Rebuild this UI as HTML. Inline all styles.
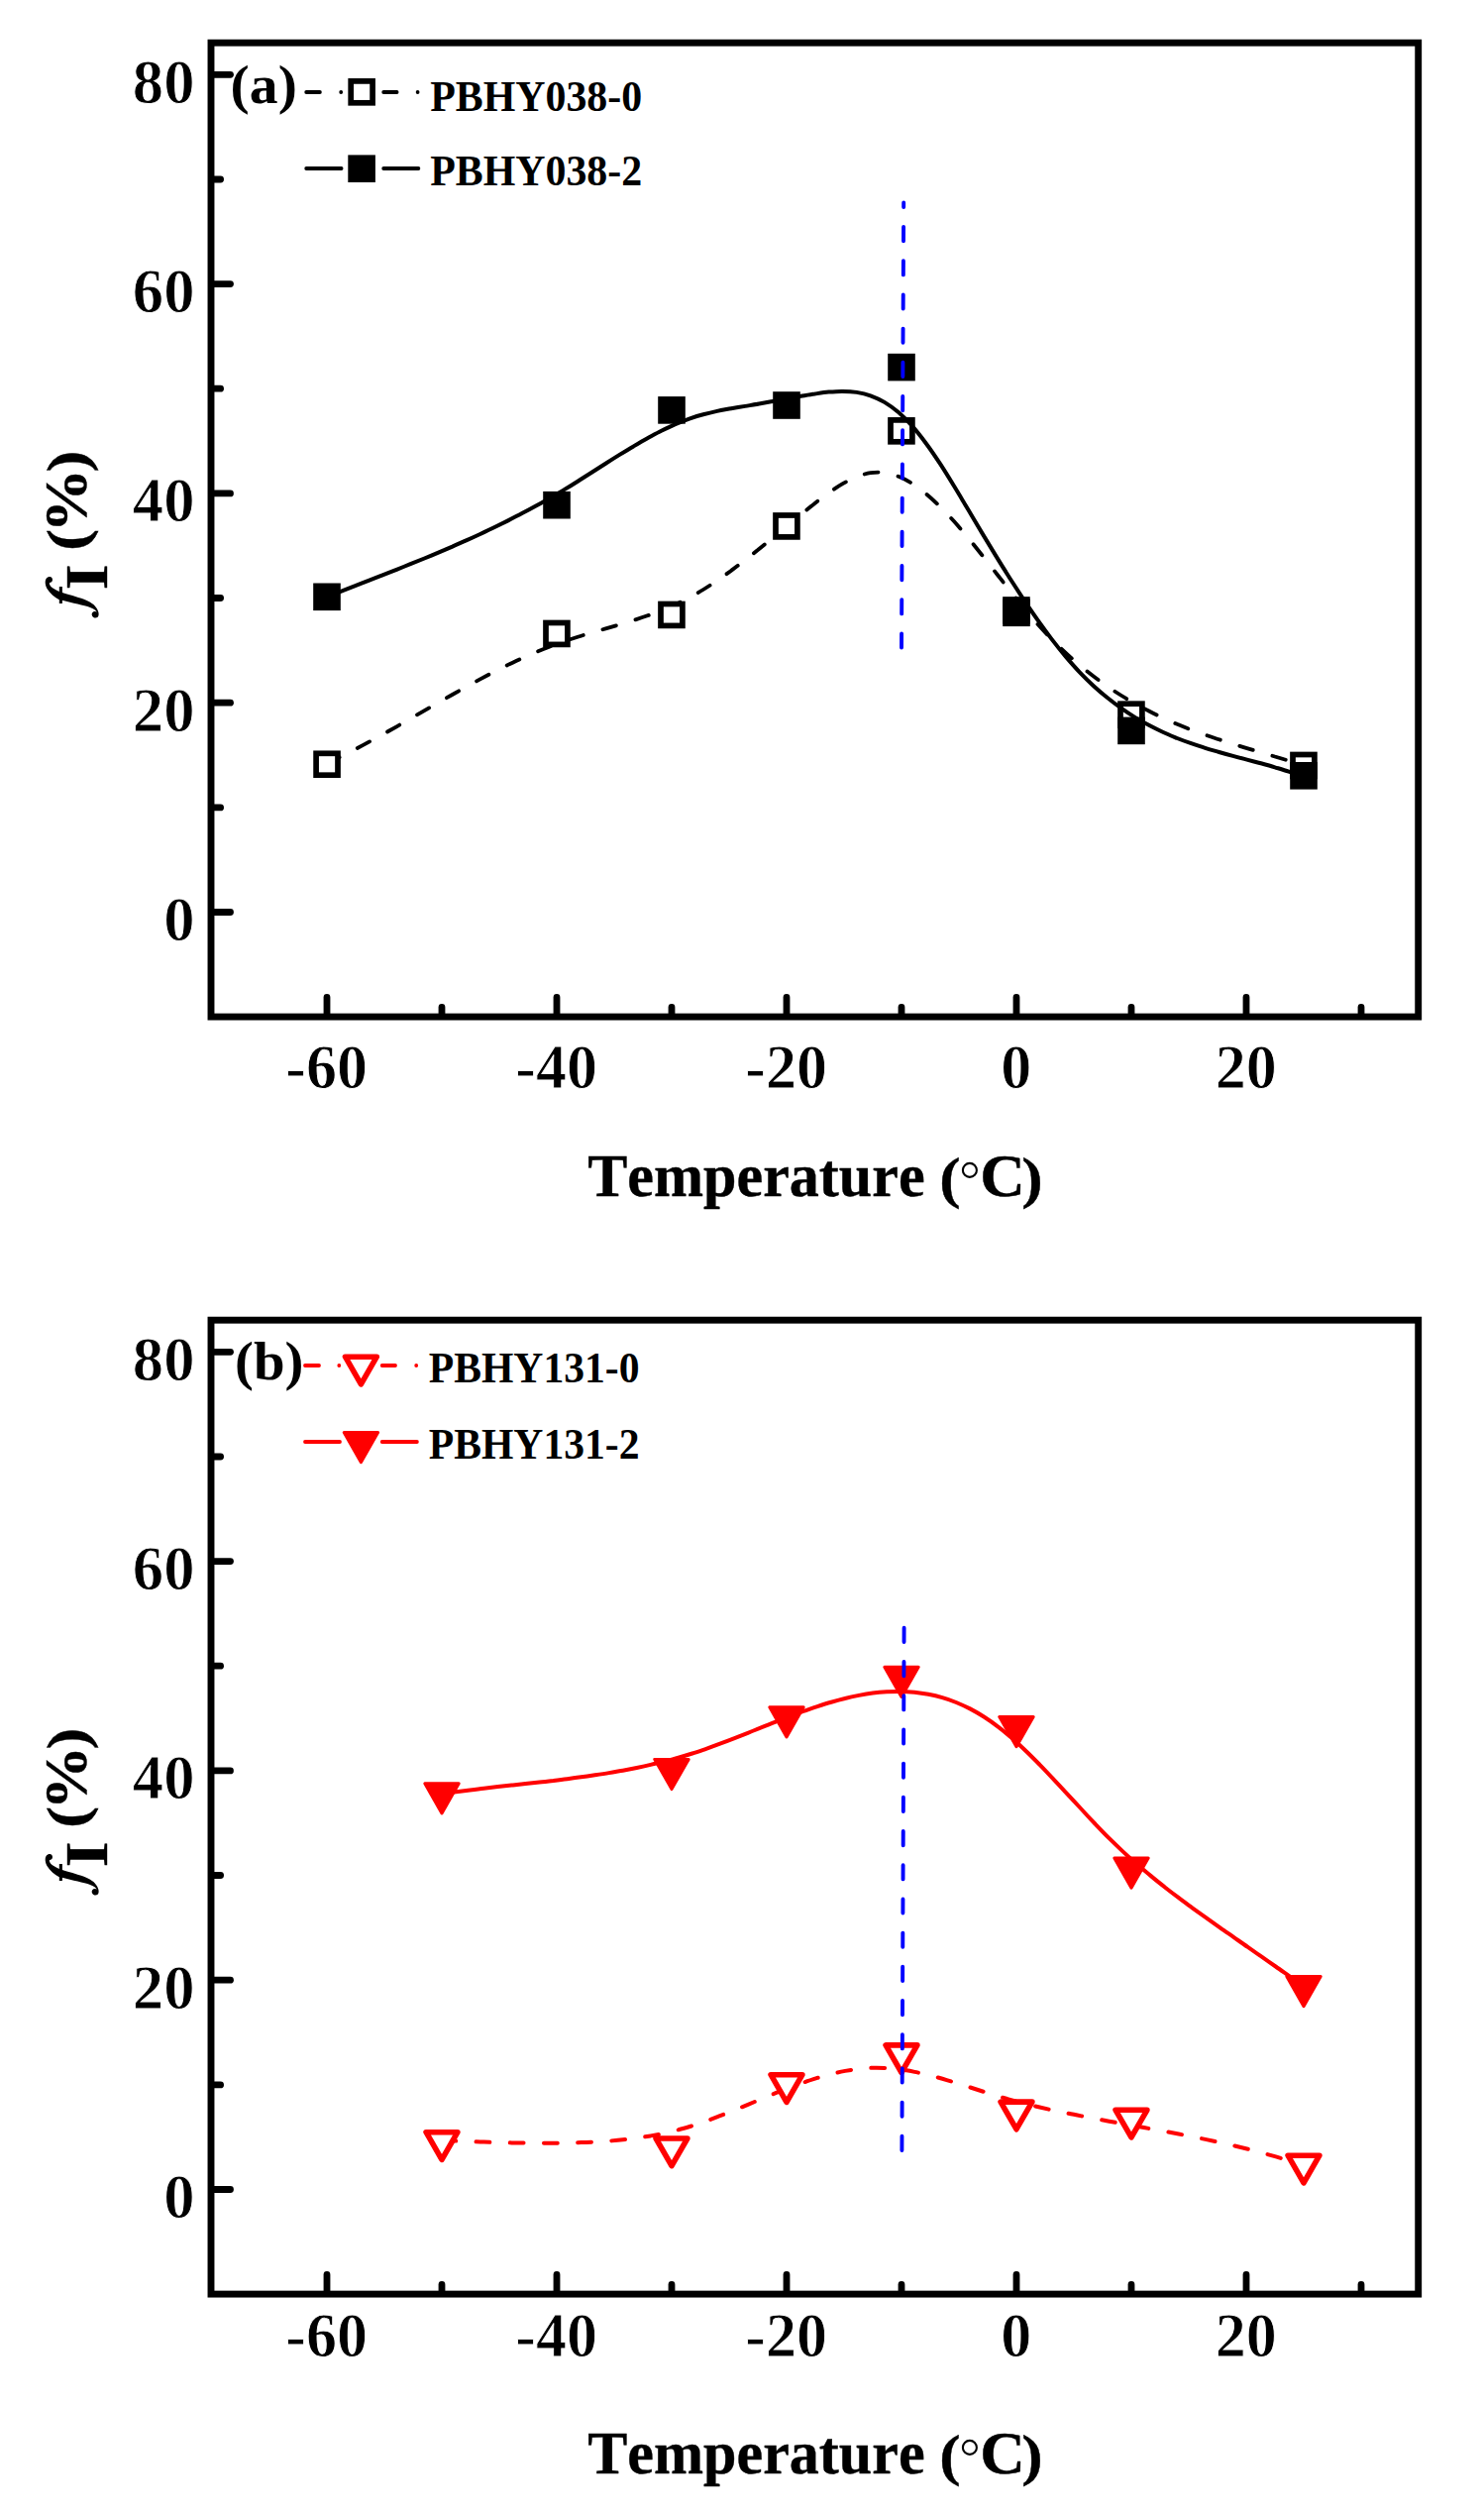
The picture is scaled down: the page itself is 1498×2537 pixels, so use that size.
<!DOCTYPE html>
<html><head><meta charset="utf-8"><title>chart</title><style>
html,body{margin:0;padding:0;background:#fff;}
body{width:1498px;height:2537px;overflow:hidden;}
svg{display:block;}
text{font-family:"Liberation Serif",serif;font-weight:bold;fill:#000;stroke:#fff;stroke-width:0.9px;font-kerning:none;}
.tk{font-size:63.6px;}
.tt{font-size:60.6px;stroke:#000;stroke-width:0.4px;}
.tag{font-size:54px;stroke:none;}
.lg{font-size:45px;stroke:none;}
</style></head><body>
<svg width="1498" height="2537" viewBox="0 0 1498 2537">
<rect width="1498" height="2537" fill="#fff"/>
<g transform="translate(0,0.0)">
<rect x="213.0" y="43.2" width="1218.7" height="982.9" fill="none" stroke="#000" stroke-width="6.9"/>
<g stroke="#000" stroke-width="6.8" stroke-linecap="round">
<line x1="216.4" y1="920.5" x2="232.5" y2="920.5"/>
<line x1="216.4" y1="814.9" x2="222.6" y2="814.9"/>
<line x1="216.4" y1="709.2" x2="232.5" y2="709.2"/>
<line x1="216.4" y1="603.5" x2="222.6" y2="603.5"/>
<line x1="216.4" y1="497.9" x2="232.5" y2="497.9"/>
<line x1="216.4" y1="392.2" x2="222.6" y2="392.2"/>
<line x1="216.4" y1="286.6" x2="232.5" y2="286.6"/>
<line x1="216.4" y1="181.0" x2="222.6" y2="181.0"/>
<line x1="216.4" y1="75.3" x2="232.5" y2="75.3"/>
<line x1="330.0" y1="1022.7" x2="330.0" y2="1006.4"/>
<line x1="446.0" y1="1022.7" x2="446.0" y2="1016.4"/>
<line x1="562.0" y1="1022.7" x2="562.0" y2="1006.4"/>
<line x1="678.0" y1="1022.7" x2="678.0" y2="1016.4"/>
<line x1="794.0" y1="1022.7" x2="794.0" y2="1006.4"/>
<line x1="910.0" y1="1022.7" x2="910.0" y2="1016.4"/>
<line x1="1026.0" y1="1022.7" x2="1026.0" y2="1006.4"/>
<line x1="1142.0" y1="1022.7" x2="1142.0" y2="1016.4"/>
<line x1="1258.0" y1="1022.7" x2="1258.0" y2="1006.4"/>
<line x1="1374.0" y1="1022.7" x2="1374.0" y2="1016.4"/>
</g>
<g class="tk" text-anchor="end">
<text class="tk" transform="translate(196.50,948.90) scale(0.9850,1.0000)" text-anchor="end">0</text>
<text class="tk" transform="translate(196.50,737.60) scale(0.9850,1.0000)" text-anchor="end">20</text>
<text class="tk" transform="translate(196.50,526.30) scale(0.9850,1.0000)" text-anchor="end">40</text>
<text class="tk" transform="translate(196.50,315.00) scale(0.9850,1.0000)" text-anchor="end">60</text>
<text class="tk" transform="translate(196.50,103.70) scale(0.9850,1.0000)" text-anchor="end">80</text>
</g>
<g class="tk" text-anchor="middle">
<text class="tk" transform="translate(329.70,1098.00) scale(0.9750,1.0000)" text-anchor="middle">-60</text>
<text class="tk" transform="translate(561.70,1098.00) scale(0.9750,1.0000)" text-anchor="middle">-40</text>
<text class="tk" transform="translate(793.70,1098.00) scale(0.9750,1.0000)" text-anchor="middle">-20</text>
<text class="tk" transform="translate(1025.70,1098.00) scale(0.9750,1.0000)" text-anchor="middle">0</text>
<text class="tk" transform="translate(1257.70,1098.00) scale(0.9750,1.0000)" text-anchor="middle">20</text>
</g>
<text class="tt" transform="translate(593.20,1206.80) scale(0.9920,1.0000)">Temperature</text>
<text class="tt" transform="translate(948.20,1207.50) scale(1.0600,0.9490)">(</text>
<circle cx="978.9" cy="1180.9" r="7.0" fill="none" stroke="#000" stroke-width="2.1"/>
<text class="tt" transform="translate(989.30,1206.80) scale(1.0400,1.0000)">C</text>
<text class="tt" transform="translate(1031.20,1207.50) scale(1.0600,0.9490)">)</text>
<g transform="translate(87.3,555.7) rotate(-90)"><text class="tt" transform="translate(-0.3,0) scale(1.1,0.95)">(</text><text class="tt" transform="translate(18.2,0) scale(1.066,1)">%</text><text class="tt" transform="translate(79.0,0) scale(1.1,0.95)">)</text><g transform="translate(-39.6,20.7) scale(1.093,1)"><text class="tt" x="0" y="0">I</text></g></g>
<path class="fg" transform="translate(40,565) scale(0.04717)" d="M215,362 C255,362 278,395 275,430 C272,470 240,492 210,488 C202,515 225,565 275,598 C325,628 370,652 420,676 L420,575 L485,575 L485,700 C600,735 800,790 950,845 C1080,895 1180,960 1230,1050 C1275,1130 1275,1200 1235,1232 C1200,1255 1140,1240 1122,1190 C1105,1140 1140,1100 1185,1100 C1200,1100 1215,1105 1225,1115 C1200,1070 1150,1040 1080,1015 C950,975 700,920 485,865 L485,935 L420,935 L420,852 C330,806 222,722 158,615 C118,540 108,450 143,400 C160,374 190,362 215,362 Z"/>
<text class="tag" transform="translate(232.60,104.30) scale(1.0680,1.0000)">(a)</text>
</g>
<g>
<path d="M329.9,770.4 C332.2,769.2 339.3,765.9 344.0,763.6 C348.7,761.3 353.4,758.9 358.0,756.4 C362.7,754.0 367.4,751.5 372.1,748.9 C376.8,746.4 381.5,743.8 386.2,741.2 C390.9,738.6 395.6,735.9 400.3,733.3 C405.0,730.6 409.6,727.9 414.3,725.2 C419.0,722.5 423.7,719.8 428.4,717.1 C433.1,714.4 437.8,711.7 442.5,709.0 C447.2,706.3 451.9,703.7 456.6,701.0 C461.2,698.4 465.9,695.7 470.6,693.1 C475.3,690.5 480.0,688.0 484.7,685.4 C489.4,682.9 494.1,680.4 498.8,678.0 C503.5,675.6 508.2,673.2 512.8,670.9 C517.5,668.7 522.2,666.4 526.9,664.3 C531.6,662.1 536.3,660.0 541.0,658.1 C545.7,656.1 550.4,654.2 555.1,652.4 C559.8,650.6 564.4,648.9 569.1,647.3 C573.8,645.7 578.5,644.2 583.2,642.7 C587.9,641.2 592.6,639.9 597.3,638.5 C602.0,637.1 606.7,635.8 611.4,634.4 C616.0,633.1 620.7,631.7 625.4,630.3 C630.1,628.9 634.8,627.5 639.5,626.0 C644.2,624.5 648.9,623.0 653.6,621.3 C658.3,619.7 663.0,618.0 667.6,616.1 C672.3,614.2 677.0,612.2 681.7,610.1 C686.4,607.9 691.1,605.6 695.8,603.1 C700.5,600.6 705.2,597.9 709.9,595.0 C714.6,592.1 719.2,589.1 723.9,585.9 C728.6,582.7 733.3,579.3 738.0,575.9 C742.7,572.4 747.4,568.9 752.1,565.2 C756.8,561.6 761.5,557.8 766.2,554.0 C770.8,550.2 775.5,546.4 780.2,542.5 C784.9,538.7 789.6,534.7 794.3,530.9 C799.0,527.0 803.7,523.1 808.4,519.3 C813.1,515.5 817.8,511.6 822.5,507.9 C827.1,504.3 831.8,500.7 836.5,497.4 C841.2,494.1 845.9,490.9 850.6,488.2 C855.3,485.6 860.0,483.1 864.7,481.2 C869.4,479.4 874.1,477.9 878.7,477.2 C883.4,476.5 888.1,476.4 892.8,477.0 C897.5,477.6 902.2,478.9 906.9,480.8 C911.6,482.6 916.3,485.2 921.0,488.1 C925.7,491.1 930.3,494.6 935.0,498.5 C939.7,502.4 944.4,506.8 949.1,511.4 C953.8,516.0 958.5,521.1 963.2,526.3 C967.9,531.6 972.6,537.1 977.3,542.8 C981.9,548.4 986.6,554.3 991.3,560.2 C996.0,566.1 1000.7,572.2 1005.4,578.2 C1010.1,584.2 1014.8,590.2 1019.5,596.1 C1024.2,602.0 1028.9,607.9 1033.5,613.6 C1038.2,619.2 1042.9,624.8 1047.6,630.0 C1052.3,635.3 1057.0,640.3 1061.7,645.1 C1066.4,649.9 1071.1,654.4 1075.8,658.8 C1080.5,663.2 1085.1,667.3 1089.8,671.3 C1094.5,675.2 1099.2,679.0 1103.9,682.5 C1108.6,686.1 1113.3,689.5 1118.0,692.8 C1122.7,696.0 1127.4,699.1 1132.1,702.0 C1136.7,704.9 1141.4,707.7 1146.1,710.3 C1150.8,712.9 1155.5,715.4 1160.2,717.8 C1164.9,720.2 1169.6,722.5 1174.3,724.6 C1179.0,726.8 1183.7,728.8 1188.3,730.8 C1193.0,732.7 1197.7,734.6 1202.4,736.4 C1207.1,738.2 1211.8,739.9 1216.5,741.5 C1221.2,743.2 1225.9,744.7 1230.6,746.3 C1235.3,747.8 1239.9,749.3 1244.6,750.8 C1249.3,752.3 1254.0,753.7 1258.7,755.1 C1263.4,756.5 1268.1,757.9 1272.8,759.3 C1277.5,760.7 1282.2,762.1 1286.9,763.5 C1291.5,764.9 1296.2,766.3 1300.9,767.7 C1305.6,769.2 1312.7,771.4 1315.0,772.2" fill="none" stroke="#000" stroke-width="3.8" stroke-dasharray="14 20.5" stroke-linecap="round"/>
<rect x="319.1" y="760.3" width="21.9" height="21.9" fill="#fff" stroke="#000" stroke-width="5.7"/>
<rect x="551.0" y="628.5" width="21.9" height="21.9" fill="#fff" stroke="#000" stroke-width="5.7"/>
<rect x="667.0" y="609.5" width="21.9" height="21.9" fill="#fff" stroke="#000" stroke-width="5.7"/>
<rect x="783.0" y="520.0" width="21.9" height="21.9" fill="#fff" stroke="#000" stroke-width="5.7"/>
<rect x="899.0" y="423.9" width="21.9" height="21.9" fill="#fff" stroke="#000" stroke-width="5.7"/>
<rect x="1015.0" y="605.0" width="21.9" height="21.9" fill="#fff" stroke="#000" stroke-width="5.7"/>
<rect x="1131.0" y="710.2" width="21.9" height="21.9" fill="#fff" stroke="#000" stroke-width="5.7"/>
<rect x="1305.0" y="761.5" width="21.9" height="21.9" fill="#fff" stroke="#000" stroke-width="5.7"/>
<path d="M329.9,602.3 C332.2,601.4 339.3,598.6 344.0,596.8 C348.7,595.0 353.4,593.1 358.0,591.3 C362.7,589.5 367.4,587.7 372.1,585.8 C376.8,584.0 381.5,582.2 386.2,580.3 C390.9,578.5 395.6,576.7 400.3,574.8 C405.0,572.9 409.6,571.1 414.3,569.2 C419.0,567.3 423.7,565.4 428.4,563.5 C433.1,561.5 437.8,559.6 442.5,557.6 C447.2,555.6 451.9,553.6 456.6,551.6 C461.2,549.5 465.9,547.5 470.6,545.4 C475.3,543.3 480.0,541.1 484.7,539.0 C489.4,536.8 494.1,534.6 498.8,532.3 C503.5,530.0 508.2,527.7 512.8,525.4 C517.5,523.0 522.2,520.6 526.9,518.1 C531.6,515.7 536.3,513.2 541.0,510.6 C545.7,508.0 550.4,505.4 555.1,502.7 C559.8,500.0 564.4,497.2 569.1,494.4 C573.8,491.6 578.5,488.7 583.2,485.7 C587.9,482.8 592.6,479.8 597.3,476.8 C602.0,473.8 606.7,470.8 611.4,467.8 C616.0,464.8 620.7,461.8 625.4,458.9 C630.1,456.0 634.8,453.1 639.5,450.4 C644.2,447.6 648.9,444.8 653.6,442.2 C658.3,439.7 663.0,437.1 667.6,434.8 C672.3,432.5 677.0,430.2 681.7,428.2 C686.4,426.2 691.1,424.3 695.8,422.6 C700.5,421.0 705.2,419.5 709.9,418.3 C714.6,417.0 719.2,415.9 723.9,414.9 C728.6,413.9 733.3,413.1 738.0,412.2 C742.7,411.4 747.4,410.7 752.1,409.9 C756.8,409.1 761.5,408.4 766.2,407.5 C770.8,406.7 775.5,405.8 780.2,405.0 C784.9,404.1 789.6,403.2 794.3,402.3 C799.0,401.5 803.7,400.6 808.4,399.8 C813.1,399.0 817.8,398.1 822.5,397.5 C827.1,396.8 831.8,396.0 836.5,395.6 C841.2,395.2 845.9,394.8 850.6,394.9 C855.3,394.9 860.0,395.1 864.7,395.9 C869.4,396.6 874.1,397.6 878.7,399.3 C883.4,401.0 888.1,403.1 892.8,405.9 C897.5,408.7 902.2,412.1 906.9,416.1 C911.6,420.2 916.3,424.9 921.0,430.1 C925.7,435.4 930.3,441.3 935.0,447.7 C939.7,454.0 944.4,461.0 949.1,468.2 C953.8,475.4 958.5,483.1 963.2,490.8 C967.9,498.4 972.6,506.5 977.3,514.3 C981.9,522.2 986.6,530.1 991.3,537.9 C996.0,545.7 1000.7,553.5 1005.4,561.1 C1010.1,568.8 1014.8,576.3 1019.5,583.7 C1024.2,591.1 1028.9,598.3 1033.5,605.4 C1038.2,612.4 1042.9,619.3 1047.6,625.9 C1052.3,632.5 1057.0,638.9 1061.7,645.1 C1066.4,651.2 1071.1,657.1 1075.8,662.6 C1080.5,668.1 1085.1,673.4 1089.8,678.3 C1094.5,683.2 1099.2,687.8 1103.9,692.2 C1108.6,696.5 1113.3,700.5 1118.0,704.3 C1122.7,708.1 1127.4,711.6 1132.1,714.9 C1136.7,718.2 1141.4,721.3 1146.1,724.1 C1150.8,727.0 1155.5,729.6 1160.2,732.1 C1164.9,734.6 1169.6,736.9 1174.3,739.0 C1179.0,741.2 1183.7,743.1 1188.3,745.0 C1193.0,746.9 1197.7,748.6 1202.4,750.2 C1207.1,751.8 1211.8,753.4 1216.5,754.8 C1221.2,756.3 1225.9,757.6 1230.6,759.0 C1235.3,760.3 1239.9,761.6 1244.6,762.9 C1249.3,764.1 1254.0,765.3 1258.7,766.6 C1263.4,767.8 1268.1,769.1 1272.8,770.3 C1277.5,771.6 1282.2,772.9 1286.9,774.3 C1291.5,775.7 1296.2,777.1 1300.9,778.6 C1305.6,780.1 1312.7,782.6 1315.0,783.3" fill="none" stroke="#000" stroke-width="4"/>
<rect x="316.2" y="588.5" width="27.6" height="27.6" fill="#000"/>
<rect x="548.2" y="495.9" width="27.6" height="27.6" fill="#000"/>
<rect x="664.2" y="400.1" width="27.6" height="27.6" fill="#000"/>
<rect x="780.2" y="395.2" width="27.6" height="27.6" fill="#000"/>
<rect x="896.2" y="356.8" width="27.6" height="27.6" fill="#000"/>
<rect x="1012.2" y="604.5" width="27.6" height="27.6" fill="#000"/>
<rect x="1128.2" y="723.6" width="27.6" height="27.6" fill="#000"/>
<rect x="1302.2" y="769.0" width="27.6" height="27.6" fill="#000"/>
<line x1="912.2" y1="204.4" x2="910.0" y2="656" stroke="#00f" stroke-width="3.9" stroke-dasharray="14.2 20" stroke-dashoffset="9.6" stroke-linecap="round"/>
<g stroke="#000" stroke-width="3.8" stroke-linecap="round">
<path d="M309.2,93H322.9 M344.2,93h0.01 M387.2,93H400.6 M421.6,93h0.01"/>
<path d="M309.2,170H344.6 M387.2,170H422.4"/>
</g>
<rect x="354.2" y="81.9" width="21.9" height="21.9" fill="#fff" stroke="#000" stroke-width="5.7"/>
<rect x="351.3" y="156.4" width="27.6" height="27.6" fill="#000"/>
<text class="lg" x="434.2" y="111.5" textLength="214.0" lengthAdjust="spacingAndGlyphs">PBHY038-0</text>
<text class="lg" x="434.2" y="186.8" textLength="214.0" lengthAdjust="spacingAndGlyphs">PBHY038-2</text>
</g>
<g transform="translate(0,1289.0)">
<rect x="213.0" y="43.2" width="1218.7" height="982.9" fill="none" stroke="#000" stroke-width="6.9"/>
<g stroke="#000" stroke-width="6.8" stroke-linecap="round">
<line x1="216.4" y1="920.5" x2="232.5" y2="920.5"/>
<line x1="216.4" y1="814.9" x2="222.6" y2="814.9"/>
<line x1="216.4" y1="709.2" x2="232.5" y2="709.2"/>
<line x1="216.4" y1="603.5" x2="222.6" y2="603.5"/>
<line x1="216.4" y1="497.9" x2="232.5" y2="497.9"/>
<line x1="216.4" y1="392.2" x2="222.6" y2="392.2"/>
<line x1="216.4" y1="286.6" x2="232.5" y2="286.6"/>
<line x1="216.4" y1="181.0" x2="222.6" y2="181.0"/>
<line x1="216.4" y1="75.3" x2="232.5" y2="75.3"/>
<line x1="330.0" y1="1022.7" x2="330.0" y2="1006.4"/>
<line x1="446.0" y1="1022.7" x2="446.0" y2="1016.4"/>
<line x1="562.0" y1="1022.7" x2="562.0" y2="1006.4"/>
<line x1="678.0" y1="1022.7" x2="678.0" y2="1016.4"/>
<line x1="794.0" y1="1022.7" x2="794.0" y2="1006.4"/>
<line x1="910.0" y1="1022.7" x2="910.0" y2="1016.4"/>
<line x1="1026.0" y1="1022.7" x2="1026.0" y2="1006.4"/>
<line x1="1142.0" y1="1022.7" x2="1142.0" y2="1016.4"/>
<line x1="1258.0" y1="1022.7" x2="1258.0" y2="1006.4"/>
<line x1="1374.0" y1="1022.7" x2="1374.0" y2="1016.4"/>
</g>
<g class="tk" text-anchor="end">
<text class="tk" transform="translate(196.50,948.90) scale(0.9850,1.0000)" text-anchor="end">0</text>
<text class="tk" transform="translate(196.50,737.60) scale(0.9850,1.0000)" text-anchor="end">20</text>
<text class="tk" transform="translate(196.50,526.30) scale(0.9850,1.0000)" text-anchor="end">40</text>
<text class="tk" transform="translate(196.50,315.00) scale(0.9850,1.0000)" text-anchor="end">60</text>
<text class="tk" transform="translate(196.50,103.70) scale(0.9850,1.0000)" text-anchor="end">80</text>
</g>
<g class="tk" text-anchor="middle">
<text class="tk" transform="translate(329.70,1089.30) scale(0.9750,1.0000)" text-anchor="middle">-60</text>
<text class="tk" transform="translate(561.70,1089.30) scale(0.9750,1.0000)" text-anchor="middle">-40</text>
<text class="tk" transform="translate(793.70,1089.30) scale(0.9750,1.0000)" text-anchor="middle">-20</text>
<text class="tk" transform="translate(1025.70,1089.30) scale(0.9750,1.0000)" text-anchor="middle">0</text>
<text class="tk" transform="translate(1257.70,1089.30) scale(0.9750,1.0000)" text-anchor="middle">20</text>
</g>
<text class="tt" transform="translate(593.20,1206.80) scale(0.9920,1.0000)">Temperature</text>
<text class="tt" transform="translate(948.20,1207.50) scale(1.0600,0.9490)">(</text>
<circle cx="978.9" cy="1180.9" r="7.0" fill="none" stroke="#000" stroke-width="2.1"/>
<text class="tt" transform="translate(989.30,1206.80) scale(1.0400,1.0000)">C</text>
<text class="tt" transform="translate(1031.20,1207.50) scale(1.0600,0.9490)">)</text>
<g transform="translate(87.3,555.7) rotate(-90)"><text class="tt" transform="translate(-0.3,0) scale(1.1,0.95)">(</text><text class="tt" transform="translate(18.2,0) scale(1.066,1)">%</text><text class="tt" transform="translate(79.0,0) scale(1.1,0.95)">)</text><g transform="translate(-39.6,20.7) scale(1.093,1)"><text class="tt" x="0" y="0">I</text></g></g>
<path class="fg" transform="translate(40,565) scale(0.04717)" d="M215,362 C255,362 278,395 275,430 C272,470 240,492 210,488 C202,515 225,565 275,598 C325,628 370,652 420,676 L420,575 L485,575 L485,700 C600,735 800,790 950,845 C1080,895 1180,960 1230,1050 C1275,1130 1275,1200 1235,1232 C1200,1255 1140,1240 1122,1190 C1105,1140 1140,1100 1185,1100 C1200,1100 1215,1105 1225,1115 C1200,1070 1150,1040 1080,1015 C950,975 700,920 485,865 L485,935 L420,935 L420,852 C330,806 222,722 158,615 C118,540 108,450 143,400 C160,374 190,362 215,362 Z"/>
<text class="tag" transform="translate(237.00,103.20) scale(1.0520,1.0000)">(b)</text>
</g>
<g>
<path d="M446.4,2160.2 C448.7,2160.2 455.8,2160.5 460.4,2160.6 C465.1,2160.8 469.8,2161.0 474.5,2161.1 C479.1,2161.3 483.8,2161.5 488.5,2161.6 C493.2,2161.8 497.8,2161.9 502.5,2162.0 C507.2,2162.2 511.9,2162.3 516.5,2162.4 C521.2,2162.5 525.9,2162.6 530.6,2162.6 C535.2,2162.7 539.9,2162.7 544.6,2162.8 C549.3,2162.8 553.9,2162.8 558.6,2162.7 C563.3,2162.7 568.0,2162.6 572.6,2162.5 C577.3,2162.4 582.0,2162.3 586.7,2162.1 C591.3,2162.0 596.0,2161.8 600.7,2161.5 C605.4,2161.2 610.0,2161.0 614.7,2160.6 C619.4,2160.2 624.1,2159.8 628.7,2159.3 C633.4,2158.8 638.1,2158.3 642.8,2157.6 C647.4,2157.0 652.1,2156.2 656.8,2155.4 C661.5,2154.6 666.1,2153.7 670.8,2152.7 C675.5,2151.6 680.2,2150.5 684.8,2149.3 C689.5,2148.0 694.2,2146.6 698.9,2145.2 C703.5,2143.7 708.2,2142.1 712.9,2140.4 C717.6,2138.8 722.2,2137.0 726.9,2135.2 C731.6,2133.4 736.3,2131.5 740.9,2129.6 C745.6,2127.7 750.3,2125.8 755.0,2123.8 C759.6,2121.9 764.3,2119.9 769.0,2118.0 C773.7,2116.0 778.3,2114.1 783.0,2112.2 C787.7,2110.3 792.4,2108.5 797.0,2106.7 C801.7,2104.9 806.4,2103.2 811.1,2101.6 C815.7,2099.9 820.4,2098.4 825.1,2096.9 C829.8,2095.5 834.4,2094.2 839.1,2093.0 C843.8,2091.8 848.5,2090.8 853.1,2089.9 C857.8,2089.1 862.5,2088.3 867.2,2087.8 C871.8,2087.3 876.5,2086.9 881.2,2086.8 C885.9,2086.7 890.6,2086.8 895.2,2087.0 C899.9,2087.3 904.6,2087.8 909.3,2088.5 C913.9,2089.1 918.6,2089.9 923.3,2090.9 C928.0,2091.8 932.6,2092.9 937.3,2094.0 C942.0,2095.2 946.7,2096.5 951.3,2097.8 C956.0,2099.2 960.7,2100.6 965.4,2102.0 C970.0,2103.5 974.7,2105.0 979.4,2106.5 C984.1,2108.0 988.7,2109.5 993.4,2111.0 C998.1,2112.5 1002.8,2113.9 1007.4,2115.3 C1012.1,2116.7 1016.8,2118.1 1021.5,2119.4 C1026.1,2120.7 1030.8,2121.9 1035.5,2123.1 C1040.2,2124.3 1044.8,2125.4 1049.5,2126.5 C1054.2,2127.6 1058.9,2128.7 1063.5,2129.7 C1068.2,2130.7 1072.9,2131.7 1077.6,2132.6 C1082.2,2133.6 1086.9,2134.5 1091.6,2135.4 C1096.3,2136.3 1100.9,2137.2 1105.6,2138.1 C1110.3,2139.0 1115.0,2139.8 1119.6,2140.7 C1124.3,2141.5 1129.0,2142.4 1133.7,2143.2 C1138.3,2144.0 1143.0,2144.9 1147.7,2145.7 C1152.4,2146.6 1157.0,2147.4 1161.7,2148.3 C1166.4,2149.1 1171.1,2150.0 1175.7,2150.9 C1180.4,2151.7 1185.1,2152.6 1189.8,2153.5 C1194.4,2154.4 1199.1,2155.3 1203.8,2156.3 C1208.5,2157.2 1213.1,2158.2 1217.8,2159.1 C1222.5,2160.1 1227.2,2161.1 1231.8,2162.2 C1236.5,2163.2 1241.2,2164.3 1245.9,2165.4 C1250.5,2166.5 1255.2,2167.7 1259.9,2168.8 C1264.6,2170.0 1269.2,2171.2 1273.9,2172.5 C1278.6,2173.8 1283.3,2175.1 1287.9,2176.4 C1292.6,2177.8 1297.3,2179.2 1302.0,2180.7 C1306.6,2182.1 1313.7,2184.5 1316.0,2185.2" fill="none" stroke="#f00" stroke-width="4" stroke-dasharray="13.8 20.4" stroke-linecap="round"/>
<polygon points="430.1,2151.7 461.9,2151.7 446.0,2179.3" fill="#fff" stroke="#f00" stroke-width="5.6" stroke-linejoin="round"/>
<polygon points="662.1,2158.0 693.9,2158.0 678.0,2185.6" fill="#fff" stroke="#f00" stroke-width="5.6" stroke-linejoin="round"/>
<polygon points="778.1,2093.7 809.9,2093.7 794.0,2121.3" fill="#fff" stroke="#f00" stroke-width="5.6" stroke-linejoin="round"/>
<polygon points="894.1,2063.9 925.9,2063.9 910.0,2091.5" fill="#fff" stroke="#f00" stroke-width="5.6" stroke-linejoin="round"/>
<polygon points="1010.1,2121.1 1041.9,2121.1 1026.0,2148.7" fill="#fff" stroke="#f00" stroke-width="5.6" stroke-linejoin="round"/>
<polygon points="1126.1,2129.3 1157.9,2129.3 1142.0,2156.9" fill="#fff" stroke="#f00" stroke-width="5.6" stroke-linejoin="round"/>
<polygon points="1300.1,2175.2 1331.9,2175.2 1316.0,2202.8" fill="#fff" stroke="#f00" stroke-width="5.6" stroke-linejoin="round"/>
<path d="M446.4,1810.3 C448.7,1810.0 455.7,1809.0 460.4,1808.3 C465.1,1807.7 469.8,1807.1 474.4,1806.5 C479.1,1805.9 483.8,1805.3 488.5,1804.8 C493.1,1804.2 497.8,1803.7 502.5,1803.1 C507.2,1802.6 511.8,1802.1 516.5,1801.6 C521.2,1801.1 525.9,1800.5 530.5,1800.0 C535.2,1799.5 539.9,1799.0 544.5,1798.5 C549.2,1797.9 553.9,1797.4 558.6,1796.9 C563.2,1796.3 567.9,1795.7 572.6,1795.2 C577.3,1794.6 581.9,1794.0 586.6,1793.3 C591.3,1792.7 596.0,1792.0 600.6,1791.3 C605.3,1790.6 610.0,1789.9 614.7,1789.1 C619.3,1788.4 624.0,1787.5 628.7,1786.7 C633.3,1785.8 638.0,1784.9 642.7,1784.0 C647.4,1783.0 652.0,1782.0 656.7,1780.9 C661.4,1779.8 666.1,1778.7 670.7,1777.5 C675.4,1776.3 680.1,1775.1 684.8,1773.7 C689.4,1772.4 694.1,1771.0 698.8,1769.5 C703.5,1768.0 708.1,1766.4 712.8,1764.8 C717.5,1763.2 722.1,1761.5 726.8,1759.7 C731.5,1758.0 736.2,1756.2 740.8,1754.4 C745.5,1752.5 750.2,1750.7 754.9,1748.8 C759.5,1746.9 764.2,1745.0 768.9,1743.2 C773.6,1741.3 778.2,1739.4 782.9,1737.6 C787.6,1735.7 792.3,1733.9 796.9,1732.1 C801.6,1730.4 806.3,1728.6 810.9,1726.9 C815.6,1725.3 820.3,1723.6 825.0,1722.1 C829.6,1720.6 834.3,1719.1 839.0,1717.8 C843.7,1716.4 848.3,1715.1 853.0,1714.0 C857.7,1712.8 862.4,1711.8 867.0,1710.9 C871.7,1710.0 876.4,1709.2 881.0,1708.6 C885.7,1708.0 890.4,1707.6 895.1,1707.3 C899.7,1707.0 904.4,1706.9 909.1,1706.9 C913.8,1707.0 918.4,1707.3 923.1,1707.7 C927.8,1708.2 932.5,1708.9 937.1,1709.8 C941.8,1710.7 946.5,1711.8 951.2,1713.2 C955.8,1714.5 960.5,1716.1 965.2,1718.0 C969.8,1719.9 974.5,1722.0 979.2,1724.4 C983.9,1726.9 988.5,1729.5 993.2,1732.5 C997.9,1735.5 1002.6,1738.8 1007.2,1742.4 C1011.9,1745.9 1016.6,1749.8 1021.3,1753.8 C1025.9,1757.9 1030.6,1762.2 1035.3,1766.7 C1040.0,1771.1 1044.6,1775.8 1049.3,1780.6 C1054.0,1785.4 1058.6,1790.3 1063.3,1795.3 C1068.0,1800.2 1072.7,1805.3 1077.3,1810.4 C1082.0,1815.4 1086.7,1820.5 1091.4,1825.5 C1096.0,1830.6 1100.7,1835.6 1105.4,1840.5 C1110.1,1845.4 1114.7,1850.2 1119.4,1854.9 C1124.1,1859.5 1128.8,1864.0 1133.4,1868.4 C1138.1,1872.8 1142.8,1877.0 1147.4,1881.1 C1152.1,1885.1 1156.8,1889.1 1161.5,1892.9 C1166.1,1896.8 1170.8,1900.5 1175.5,1904.2 C1180.2,1907.9 1184.8,1911.4 1189.5,1914.9 C1194.2,1918.5 1198.9,1921.9 1203.5,1925.3 C1208.2,1928.7 1212.9,1932.0 1217.6,1935.4 C1222.2,1938.7 1226.9,1942.0 1231.6,1945.3 C1236.2,1948.6 1240.9,1951.8 1245.6,1955.1 C1250.3,1958.4 1254.9,1961.7 1259.6,1964.9 C1264.3,1968.2 1269.0,1971.5 1273.6,1974.7 C1278.3,1978.0 1283.0,1981.2 1287.7,1984.5 C1292.3,1987.8 1297.0,1991.0 1301.7,1994.3 C1306.4,1997.6 1313.4,2002.5 1315.7,2004.1" fill="none" stroke="#f00" stroke-width="4"/>
<polygon points="428.8,1799.8 463.2,1799.8 446.0,1830.0" fill="#f00" stroke="#f00" stroke-width="3" stroke-linejoin="round"/>
<polygon points="660.8,1775.4 695.2,1775.4 678.0,1805.6" fill="#f00" stroke="#f00" stroke-width="3" stroke-linejoin="round"/>
<polygon points="776.8,1722.8 811.2,1722.8 794.0,1753.0" fill="#f00" stroke="#f00" stroke-width="3" stroke-linejoin="round"/>
<polygon points="892.8,1682.3 927.2,1682.3 910.0,1712.5" fill="#f00" stroke="#f00" stroke-width="3" stroke-linejoin="round"/>
<polygon points="1008.8,1732.6 1043.2,1732.6 1026.0,1762.8" fill="#f00" stroke="#f00" stroke-width="3" stroke-linejoin="round"/>
<polygon points="1124.8,1875.0 1159.2,1875.0 1142.0,1905.2" fill="#f00" stroke="#f00" stroke-width="3" stroke-linejoin="round"/>
<polygon points="1298.8,1994.5 1333.2,1994.5 1316.0,2024.7" fill="#f00" stroke="#f00" stroke-width="3" stroke-linejoin="round"/>
<line x1="912.6" y1="1642.8" x2="910.4" y2="2172" stroke="#00f" stroke-width="3.9" stroke-dasharray="14.2 20" stroke-linecap="round"/>
<g stroke="#f00" stroke-width="3.8" stroke-linecap="round">
<path d="M308.0,1378H322.0 M342.3,1378h0.01 M385.7,1378H399.0 M420.2,1378h0.01"/>
<path d="M308.0,1455H343.0 M385.7,1455H420.9"/>
</g>
<polygon points="348.5,1369.2 380.3,1369.2 364.4,1396.8" fill="#fff" stroke="#f00" stroke-width="5.6" stroke-linejoin="round"/>
<polygon points="347.2,1445.5 381.6,1445.5 364.4,1475.7" fill="#f00" stroke="#f00" stroke-width="3" stroke-linejoin="round"/>
<text class="lg" x="432.8" y="1395.0" textLength="212.7" lengthAdjust="spacingAndGlyphs">PBHY131-0</text>
<text class="lg" x="432.8" y="1472.2" textLength="212.7" lengthAdjust="spacingAndGlyphs">PBHY131-2</text>
</g>
</svg>
</body></html>
